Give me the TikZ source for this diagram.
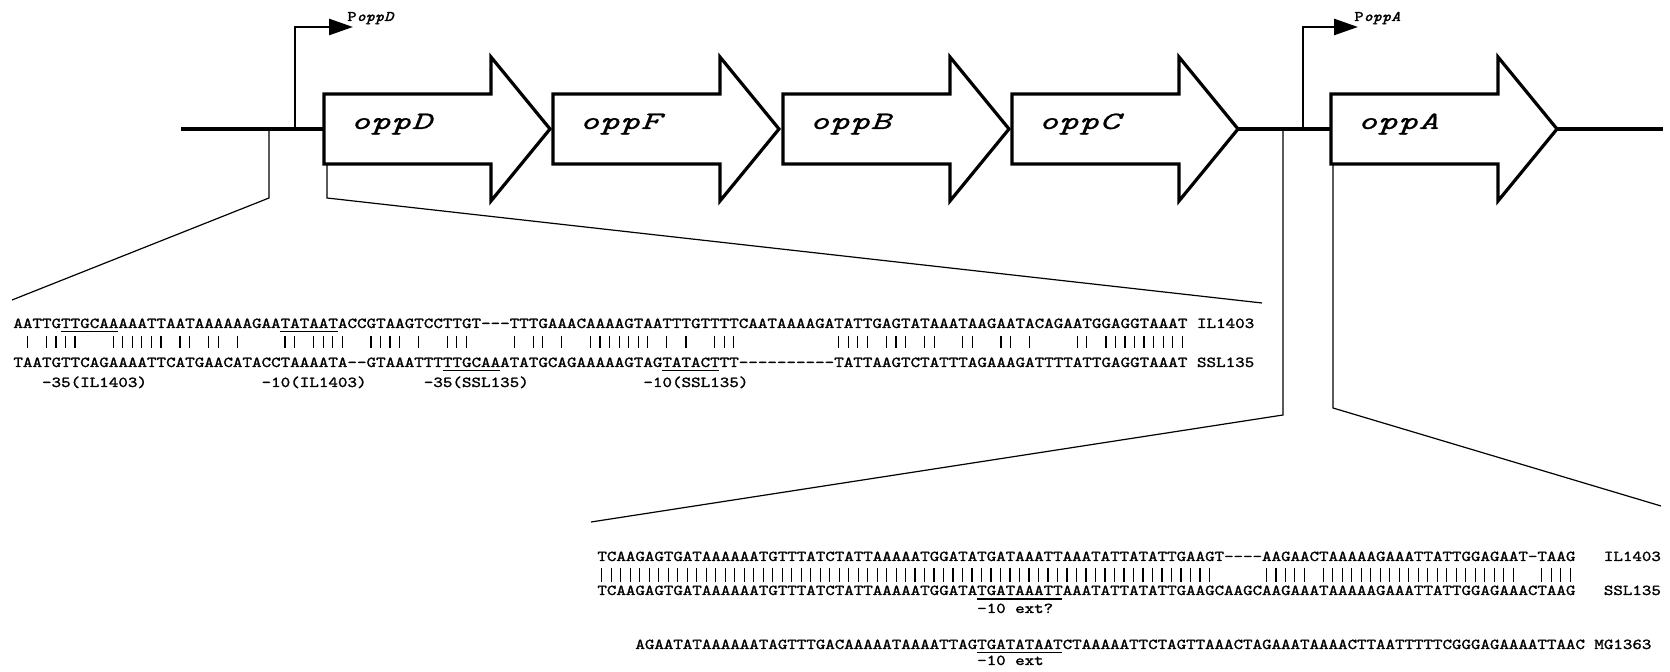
\documentclass[tikz,border=0pt]{standalone}
\usepackage{fontspec}
\usepackage{tikz}
\usetikzlibrary{arrows.meta}

\newfontfamily\seqfont{lmmono10-regular.otf}[ItalicFont=lmmono10-italic.otf,FakeStretch=1.2,FakeBold=1.5]
\newfontfamily\genefont{lmmono10-italic.otf}[FakeStretch=1.55,FakeBold=0.6]

\tikzset{
  gene/.style={draw, line width=1.6pt, fill=white, miter limit=10},
  backbone/.style={line width=1.6pt},
  prom/.style={line width=1.3pt, -{Triangle[length=12pt,width=8pt]}},
  zoomline/.style={line width=0.6pt},
  genename/.style={font=\genefont\fontsize{12.5pt}{13pt}\selectfont, inner sep=0, anchor=base west},
  promname/.style={font=\seqfont\fontsize{7.3pt}{8pt}\selectfont, inner sep=0, anchor=base west},
  seqa/.style={font=\seqfont\fontsize{7.575pt}{9pt}\selectfont, inner sep=0, anchor=base west},
  seqb/.style={font=\seqfont\fontsize{7.536pt}{9pt}\selectfont, inner sep=0, anchor=base west},
  match/.style={line width=0.6pt},
  motif/.style={line width=0.7pt}
}

\begin{document}
\begin{tikzpicture}[x=0.5pt,y=-0.5pt]
\useasboundingbox (0,0) rectangle (1670,672);

% operon
\coordinate (left) at (181,129);
\coordinate (right) at (1663,129);
\foreach \gx/\gn in {324/oppD,553/oppF,783/oppB,1012/oppC,1331/oppA}{
  \coordinate (\gn-in) at (\gx,129);
  \coordinate (\gn-out) at (\gx+226,129);
}
\draw[backbone] (left) -- (oppD-in) (oppC-out) -- (oppA-in) (oppA-out) -- (right);

\foreach \gx/\gn in {324/oppD,553/oppF,783/oppB,1012/oppC,1331/oppA}{
  \draw[gene] (\gx,94) -- ++(167,0) -- ++(0,-37) -- ++(59,72) -- ++(-59,72) -- ++(0,-37) -- ++(-167,0) -- cycle;
  \node[genename] (\gn) at (\gx+26,129) {\gn};
}

% promoters
\coordinate (pD) at (295,129);
\coordinate (pDend) at (353,27);
\draw[prom] (pD) |- (pDend);
\node[promname] (PoppD) at (347,21) {P\textit{oppD}};

\coordinate (pA) at (1303,129);
\coordinate (pAend) at (1358,27);
\draw[prom] (pA) |- (pAend);
\node[promname] (PoppA) at (1354,21) {P\textit{oppA}};

% zoom lines
\coordinate (zD1) at (269,129);
\coordinate (zD2) at (269,198);
\coordinate (zD3) at (12,300);
\coordinate (zD4) at (327,164);
\coordinate (zD5) at (327,198);
\coordinate (zD6) at (1262,303);
\draw[zoomline] (zD1) -- (zD2) -- (zD3);
\draw[zoomline] (zD4) -- (zD5) -- (zD6);

\coordinate (zA1) at (1283,129);
\coordinate (zA2) at (1283,415);
\coordinate (zA3) at (591,522);
\coordinate (zA4) at (1333,164);
\coordinate (zA5) at (1333,408);
\coordinate (zA6) at (1661,506);
\draw[zoomline] (zA1) -- (zA2) -- (zA3);
\draw[zoomline] (zA4) -- (zA5) -- (zA6);

% oppD promoter region
\node[seqa] (ilD) at (13,328) {AATTGTTGCAAAAATTAATAAAAAAGAATATAATACCGTAAGTCCTTGT---TTTGAAACAAAAGTAATTTGTTTTCAATAAAAGATATTGAGTATAAATAAGAATACAGAATGGAGGTAAAT};
\node[seqa] (sslD) at (13,367) {TAATGTTCAGAAAATTCATGAACATACCTAAAATA--GTAAATTTTTGCAAATATGCAGAAAAAGTAGTATACTTT----------TATTAAGTCTATTTAGAAAGATTTTATTGAGGTAAAT};
\node[seqa] (ilDname) at (1196.6,328) {IL1403};
\node[seqa] (sslDname) at (1196.6,367) {SSL135};
\foreach \c in {2,4,5,6,7,11,12,13,14,15,16,18,19,21,22,24,29,30,32,33,34,35,38,39,40,41,43,46,47,48,53,55,56,58,61,62,63,64,65,66,67,69,71,74,75,76,87,88,89,90,92,93,94,96,97,100,101,104,105,107,112,113,115,116,117,118,119,120,121,122,123}
  \draw[match] ({13+(\c-0.5)*9.545},336.5) -- ++(0,12);
\draw[motif] (60.7,331.5) -- (118.0,331.5);
\draw[motif] (280.3,331.5) -- (337.5,331.5);
\draw[motif] (442.5,370.5) -- (499.8,370.5);
\draw[motif] (662.1,370.5) -- (719.3,370.5);
\node[seqa] (m35il) at (41.6,387) {-35(IL1403)};
\node[seqa] (m10il) at (261.2,387) {-10(IL1403)};
\node[seqa] (m35ssl) at (423.4,387) {-35(SSL135)};
\node[seqa] (m10ssl) at (643.0,387) {-10(SSL135)};

% oppA promoter region
\node[seqb] (ilA) at (597,561) {TCAAGAGTGATAAAAAATGTTTATCTATTAAAAATGGATATGATAAATTAAATATTATATTGAAGT----AAGAACTAAAAAGAAATTATTGGAGAAT-TAAG};
\node[seqb] (sslA) at (597,595) {TCAAGAGTGATAAAAAATGTTTATCTATTAAAAATGGATATGATAAATTAAATATTATATTGAAGCAAGCAAGAAATAAAAAGAAATTATTGGAGAAACTAAG};
\node[seqb] (mgA) at (635.0,649) {AGAATATAAAAAATAGTTTGACAAAAATAAAATTAGTGATATAATCTAAAAATTCTAGTTAAACTAGAAATAAAACTTAATTTTTCGGGAGAAAATTAAC};
\node[seqb] (ilAname) at (1603.5,561) {IL1403};
\node[seqb] (sslAname) at (1603.5,595) {SSL135};
\node[seqb] (mgAname) at (1594.0,649) {MG1363};
\foreach \c in {1,2,...,65,71,72,...,75,77,78,...,97,100,101,102,103}
  \draw[match] ({597+(\c-0.5)*9.495},568) -- ++(0,14);
\draw[motif] (976.8,599) -- (1062.3,599);
\draw[motif] (976.8,652.5) -- (1062.3,652.5);
\node[seqb] (extq) at (976.8,613) {-10 ext?};
\node[seqb] (ext) at (976.8,665) {-10 ext};

\end{tikzpicture}
\end{document}
